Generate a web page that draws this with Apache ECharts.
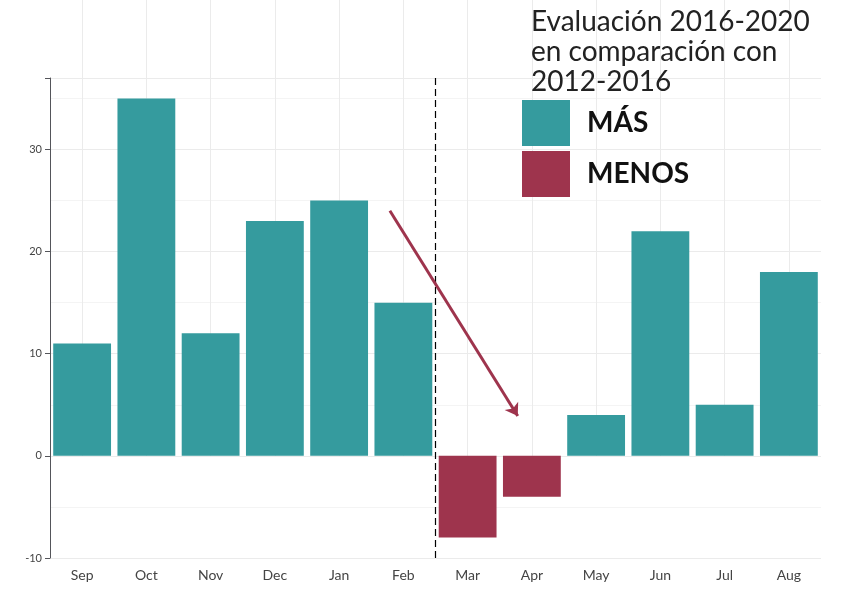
<!DOCTYPE html>
<html>
<head>
<meta charset="utf-8">
<script src="https://cdn.jsdelivr.net/npm/echarts@6/dist/echarts.min.js"></script>
<style>html,body{margin:0;background:#fff}#main{width:847px;height:594px}</style>
</head>
<body>
<div id="main"></div>
<script>
const months = ['Sep', 'Oct', 'Nov', 'Dec', 'Jan', 'Feb', 'Mar', 'Apr', 'May', 'Jun', 'Jul', 'Aug'];
const values = [11, 35, 12, 23, 25, 15, -8, -4, 4, 22, 5, 18];
const arrowFrom = [5.29, 24];
const arrowTo = [7.28, 3.9];

const mas = values.map(v => v > 0 ? v : '-');
const menos = values.map(v => v < 0 ? v : '-');

const chart = echarts.init(document.getElementById('main'));
chart.setOption({
    animation: false,
    textStyle: {fontFamily: 'Lato'},
    title: {
        text: 'Evaluación 2016-2020\nen comparación con\n2012-2016',
        left: 526, top: 2,
        textStyle: {fontSize: 28, fontWeight: 'normal', color: '#222', lineHeight: 30, fontFamily: 'Lato'}
    },
    legend: {
        orient: 'vertical', left: 522, top: 100, padding: 0,
        itemWidth: 48, itemHeight: 46, itemGap: 5,
        icon: 'rect',
        textStyle: {fontSize: 28, fontWeight: 'bold', color: '#111', padding: [0, 0, 0, 12]},
        data: ['MÁS', 'MENOS']
    },
    grid: {left: 50, right: 26, top: 78, bottom: 36},
    xAxis: [{
        type: 'category', data: months,
        axisLine: {show: false},
        axisTick: {show: true, alignWithLabel: true, inside: true, length: 480, lineStyle: {color: '#ebebeb'}},
        axisLabel: {color: '#444', fontSize: 14, margin: 10}
    }, {
        type: 'value', min: 0, max: 12, show: false
    }],
    yAxis: {
        type: 'value', min: -10, max: 37, interval: 10,
        axisLabel: {color: '#444', fontSize: 11, formatter: v => v % 10 === 0 ? v : ''},
        splitLine: {lineStyle: {color: '#ebebeb'}},
        minorTick: {show: false, splitNumber: 2},
        minorSplitLine: {show: true, lineStyle: {color: '#f4f4f4'}}
    },
    series: [{
        name: 'MÁS', type: 'bar', stack: 'a', data: mas, barCategoryGap: '10%',
        itemStyle: {color: '#359b9e'}
    }, {
        name: 'MENOS', type: 'bar', stack: 'a', data: menos, barCategoryGap: '10%',
        itemStyle: {color: '#9e344d'}
    }, {
        type: 'line', xAxisIndex: 1, data: [], silent: true,
        markLine: {
            silent: true, symbol: 'none', label: {show: false},
            lineStyle: {color: '#000', type: [7, 4], width: 1.2},
            data: [{xAxis: 6}]
        }
    }, {
        type: 'line', xAxisIndex: 1, data: [], silent: true,
        markLine: {
            silent: true, symbol: ['none', 'arrow'], symbolSize: 12, label: {show: false},
            lineStyle: {color: '#9e344d', type: 'solid', width: 3},
            data: [[{coord: arrowFrom}, {coord: arrowTo}]]
        }
    }]
});
</script>
</body>
</html>
